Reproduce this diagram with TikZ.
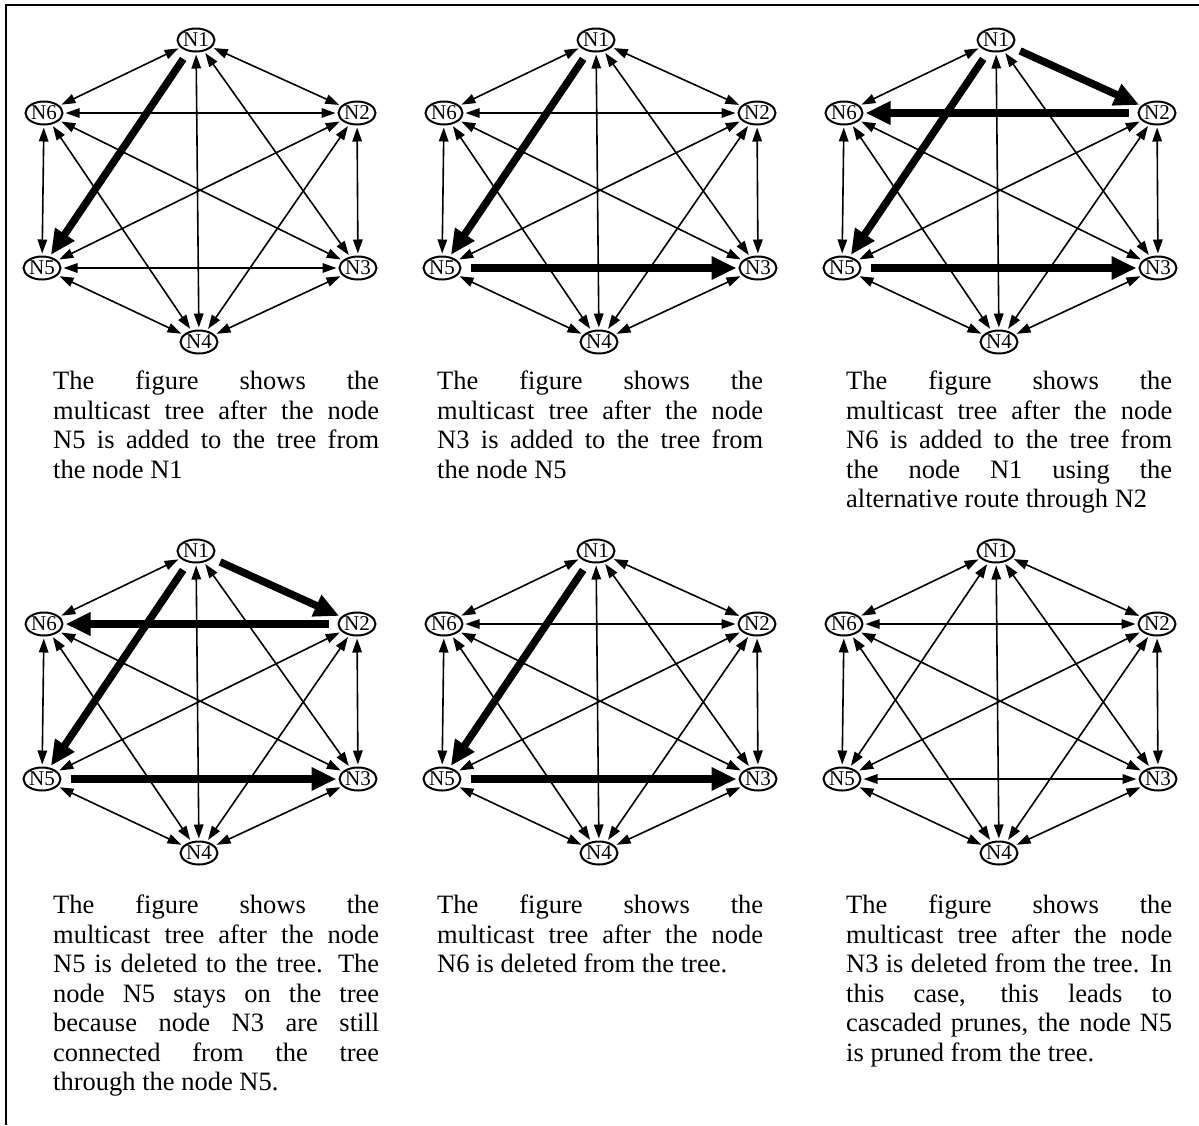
\documentclass[tikz,border=0pt]{standalone}
\usepackage{fontspec}
\setmainfont{Liberation Serif}
\usetikzlibrary{arrows.meta,shapes.geometric}
\newcommand\capline[1]{\makebox[326pt][s]{#1}}
\newcommand\mypanel[4]{%
  \begin{scope}[shift={(#2,#3)}]
    \node[nd] (#1n1) at (196,0) {N1};
    \node[nd] (#1n2) at (357,73) {N2};
    \node[nd] (#1n3) at (358,228) {N3};
    \node[nd] (#1n4) at (199,302) {N4};
    \node[nd] (#1n5) at (42,228) {N5};
    \node[nd] (#1n6) at (44,73) {N6};
    \foreach \a/\b in {#4} {\draw[tline] (#1n\a) -- (#1n\b);}
  \end{scope}}
\begin{document}
\begin{tikzpicture}[x=1pt,y=-1pt,
  nd/.style={ellipse,draw,line width=2pt,minimum width=37pt,minimum height=23pt,inner sep=0pt,font=\fontsize{21}{21}\selectfont},
  tline/.style={line width=1.6pt,{Triangle[length=14pt,width=9.5pt]}-{Triangle[length=14pt,width=9.5pt]},shorten <=2pt,shorten >=2pt},
  bline/.style={line width=7.5pt,-{Triangle[length=25pt,width=22pt]},shorten <=9pt,shorten >=2pt},
  captxt/.style={anchor=north west,inner sep=0pt,align=left,font=\fontsize{26.5}{29.5}\selectfont}]
\useasboundingbox (0,0) rectangle (1199,1125);
\draw[line width=2.2pt] (6,1125) -- (6,5) -- (1199,5);
% row 1
\mypanel{a}{0}{40}{1/2,1/3,1/4,1/6,2/3,2/4,2/5,2/6,3/4,3/5,3/6,4/5,4/6,5/6}
\draw[bline] (an1) -- (an5);
\mypanel{b}{400}{40}{1/2,1/3,1/4,1/6,2/3,2/4,2/5,2/6,3/4,3/6,4/5,4/6,5/6}
\draw[bline] (bn1) -- (bn5);
\draw[bline] (bn5) -- (bn3);
\mypanel{c}{800}{40}{1/3,1/4,1/6,2/3,2/4,2/5,3/4,3/6,4/5,4/6,5/6}
\draw[bline] (cn1) -- (cn5);
\draw[bline] (cn5) -- (cn3);
\draw[bline] (cn1) -- (cn2);
\draw[bline] (cn2) -- (cn6);
% row 2
\mypanel{d}{0}{551}{1/3,1/4,1/6,2/3,2/4,2/5,3/4,3/6,4/5,4/6,5/6}
\draw[bline] (dn1) -- (dn5);
\draw[bline] (dn5) -- (dn3);
\draw[bline] (dn1) -- (dn2);
\draw[bline] (dn2) -- (dn6);
\mypanel{e}{400}{551}{1/2,1/3,1/4,1/6,2/3,2/4,2/5,2/6,3/4,3/6,4/5,4/6,5/6}
\draw[bline] (en1) -- (en5);
\draw[bline] (en5) -- (en3);
\mypanel{f}{800}{551}{1/2,1/3,1/4,1/5,1/6,2/3,2/4,2/5,2/6,3/4,3/5,3/6,4/5,4/6,5/6}
% captions
\node[captxt] (ca) at (53,371) {\capline{The figure shows the}\\ \capline{multicast tree after the node}\\ \capline{N5 is added to the tree from}\\ the node N1};
\node[captxt] (cb) at (437,371) {\capline{The figure shows the}\\ \capline{multicast tree after the node}\\ \capline{N3 is added to the tree from}\\ the node N5};
\node[captxt] (cc) at (846,371) {\capline{The figure shows the}\\ \capline{multicast tree after the node}\\ \capline{N6 is added to the tree from}\\ \capline{the node N1 using the}\\ alternative route through N2};
\node[captxt] (cd) at (53,895) {\capline{The figure shows the}\\ \capline{multicast tree after the node}\\ \capline{N5 is deleted to the tree. The}\\ \capline{node N5 stays on the tree}\\ \capline{because node N3 are still}\\ \capline{connected from the tree}\\ through the node N5.};
\node[captxt] (ce) at (437,895) {\capline{The figure shows the}\\ \capline{multicast tree after the node}\\ N6 is deleted from the tree.};
\node[captxt] (cf) at (846,895) {\capline{The figure shows the}\\ \capline{multicast tree after the node}\\ \capline{N3 is deleted from the tree. In}\\ \capline{this case, this leads to}\\ \capline{cascaded prunes, the node N5}\\ is pruned from the tree.};
\end{tikzpicture}
\end{document}
